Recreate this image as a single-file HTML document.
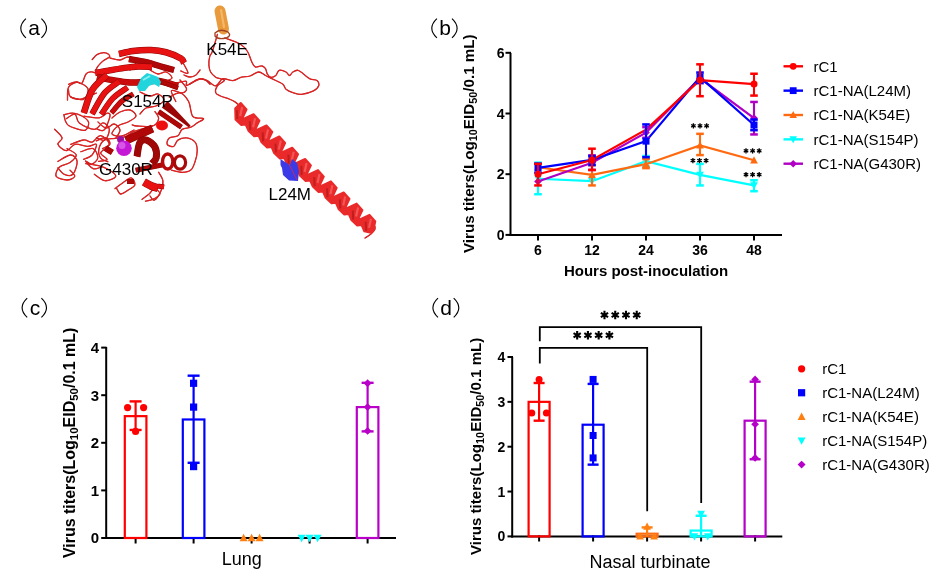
<!DOCTYPE html><html><head><meta charset="utf-8"><style>html,body{margin:0;padding:0;background:#fff;}body{width:947px;height:583px;overflow:hidden;}svg{display:block;will-change:transform;font-family:"Liberation Sans",sans-serif;}</style></head><body><svg width="947" height="583" viewBox="0 0 947 583" font-family="Liberation Sans, sans-serif">
<rect width="947" height="583" fill="#fff"/>
<path d="M25.90,18.60 Q15.70,28.25 25.90,37.90" fill="none" stroke="#000" stroke-width="1.15"/>
<path d="M41.40,18.60 Q51.60,28.25 41.40,37.90" fill="none" stroke="#000" stroke-width="1.15"/>
<text x="34.10" y="35.00" font-size="21" font-weight="normal" text-anchor="middle" fill="#000" >a</text>
<path d="M436.90,18.60 Q426.70,28.25 436.90,37.90" fill="none" stroke="#000" stroke-width="1.15"/>
<path d="M452.00,18.60 Q462.20,28.25 452.00,37.90" fill="none" stroke="#000" stroke-width="1.15"/>
<text x="445.20" y="35.00" font-size="21" font-weight="normal" text-anchor="middle" fill="#000" >b</text>
<path d="M27.20,298.10 Q17.00,307.75 27.20,317.40" fill="none" stroke="#000" stroke-width="1.15"/>
<path d="M41.40,298.10 Q51.60,307.75 41.40,317.40" fill="none" stroke="#000" stroke-width="1.15"/>
<text x="35.00" y="314.50" font-size="21" font-weight="normal" text-anchor="middle" fill="#000" >c</text>
<path d="M438.00,298.10 Q427.80,307.75 438.00,317.40" fill="none" stroke="#000" stroke-width="1.15"/>
<path d="M453.70,298.10 Q463.90,307.75 453.70,317.40" fill="none" stroke="#000" stroke-width="1.15"/>
<text x="446.00" y="314.50" font-size="21" font-weight="normal" text-anchor="middle" fill="#000" >d</text>
<line x1="510.50" y1="52.90" x2="510.50" y2="236.00" stroke="#000" stroke-width="2" />
<line x1="509.50" y1="234.90" x2="782.00" y2="234.90" stroke="#000" stroke-width="2" />
<line x1="505.50" y1="234.90" x2="511.00" y2="234.90" stroke="#000" stroke-width="2" />
<text x="504.50" y="239.90" font-size="14" font-weight="bold" text-anchor="end" fill="#000" >0</text>
<line x1="505.50" y1="174.20" x2="511.00" y2="174.20" stroke="#000" stroke-width="2" />
<text x="504.50" y="179.20" font-size="14" font-weight="bold" text-anchor="end" fill="#000" >2</text>
<line x1="505.50" y1="113.50" x2="511.00" y2="113.50" stroke="#000" stroke-width="2" />
<text x="504.50" y="118.50" font-size="14" font-weight="bold" text-anchor="end" fill="#000" >4</text>
<line x1="505.50" y1="52.80" x2="511.00" y2="52.80" stroke="#000" stroke-width="2" />
<text x="504.50" y="57.80" font-size="14" font-weight="bold" text-anchor="end" fill="#000" >6</text>
<line x1="538.00" y1="234.00" x2="538.00" y2="240.50" stroke="#000" stroke-width="2" />
<text x="538.00" y="254.90" font-size="14" font-weight="bold" text-anchor="middle" fill="#000" >6</text>
<line x1="592.00" y1="234.00" x2="592.00" y2="240.50" stroke="#000" stroke-width="2" />
<text x="592.00" y="254.90" font-size="14" font-weight="bold" text-anchor="middle" fill="#000" >12</text>
<line x1="646.00" y1="234.00" x2="646.00" y2="240.50" stroke="#000" stroke-width="2" />
<text x="646.00" y="254.90" font-size="14" font-weight="bold" text-anchor="middle" fill="#000" >24</text>
<line x1="700.00" y1="234.00" x2="700.00" y2="240.50" stroke="#000" stroke-width="2" />
<text x="700.00" y="254.90" font-size="14" font-weight="bold" text-anchor="middle" fill="#000" >36</text>
<line x1="754.00" y1="234.00" x2="754.00" y2="240.50" stroke="#000" stroke-width="2" />
<text x="754.00" y="254.90" font-size="14" font-weight="bold" text-anchor="middle" fill="#000" >48</text>
<text x="646.00" y="275.80" font-size="15" font-weight="bold" text-anchor="middle" fill="#000" >Hours post-inoculation</text>
<text transform="translate(473.60,253.00) rotate(-90)" x="0" y="0" font-size="15" font-weight="bold" textLength="218.6" lengthAdjust="spacingAndGlyphs">Virus titers(Log<tspan font-size="10.8" dy="3">10</tspan><tspan dy="-3">EID</tspan><tspan font-size="10.8" dy="3">50</tspan><tspan dy="-3">/0.1 mL)</tspan></text>
<polyline points="538,178.75 592,181.18 646,161.15 700,174.81 754,185.43" fill="none" stroke="#00ffff" stroke-width="2.2"/>
<polyline points="538,167.22 592,174.81 646,164.18 700,145.37 754,160.24" fill="none" stroke="#ff6a10" stroke-width="2.2"/>
<polyline points="538,181.48 592,162.67 646,132.62 700,78.29 754,118.05" fill="none" stroke="#b000c4" stroke-width="2.2"/>
<polyline points="538,167.83 592,159.94 646,141.12 700,77.08 754,125.03" fill="none" stroke="#0000ff" stroke-width="2.2"/>
<polyline points="538,174.20 592,159.94 646,129.59 700,80.12 754,84.06" fill="none" stroke="#ff0000" stroke-width="2.2"/>
<line x1="538.00" y1="194.23" x2="538.00" y2="162.67" stroke="#00ffff" stroke-width="2.1" />
<line x1="534.20" y1="194.23" x2="541.80" y2="194.23" stroke="#00ffff" stroke-width="2.5" />
<line x1="534.20" y1="162.67" x2="541.80" y2="162.67" stroke="#00ffff" stroke-width="2.5" />
<line x1="646.00" y1="166.61" x2="646.00" y2="155.99" stroke="#00ffff" stroke-width="2.1" />
<line x1="642.20" y1="166.61" x2="649.80" y2="166.61" stroke="#00ffff" stroke-width="2.5" />
<line x1="642.20" y1="155.99" x2="649.80" y2="155.99" stroke="#00ffff" stroke-width="2.5" />
<line x1="700.00" y1="185.43" x2="700.00" y2="163.88" stroke="#00ffff" stroke-width="2.1" />
<line x1="696.20" y1="185.43" x2="703.80" y2="185.43" stroke="#00ffff" stroke-width="2.5" />
<line x1="696.20" y1="163.88" x2="703.80" y2="163.88" stroke="#00ffff" stroke-width="2.5" />
<line x1="754.00" y1="191.20" x2="754.00" y2="180.27" stroke="#00ffff" stroke-width="2.1" />
<line x1="750.20" y1="191.20" x2="757.80" y2="191.20" stroke="#00ffff" stroke-width="2.5" />
<line x1="750.20" y1="180.27" x2="757.80" y2="180.27" stroke="#00ffff" stroke-width="2.5" />
<polygon points="538.00,182.78 541.85,175.60 534.15,175.60" fill="#00ffff"/>
<polygon points="592.00,185.21 595.85,178.03 588.15,178.03" fill="#00ffff"/>
<polygon points="646.00,165.17 649.85,158.00 642.15,158.00" fill="#00ffff"/>
<polygon points="700.00,178.83 703.85,171.66 696.15,171.66" fill="#00ffff"/>
<polygon points="754.00,189.45 757.85,182.28 750.15,182.28" fill="#00ffff"/>
<line x1="592.00" y1="185.43" x2="592.00" y2="165.10" stroke="#ff6a10" stroke-width="2.1" />
<line x1="588.20" y1="185.43" x2="595.80" y2="185.43" stroke="#ff6a10" stroke-width="2.5" />
<line x1="588.20" y1="165.10" x2="595.80" y2="165.10" stroke="#ff6a10" stroke-width="2.5" />
<line x1="646.00" y1="168.13" x2="646.00" y2="159.03" stroke="#ff6a10" stroke-width="2.1" />
<line x1="642.20" y1="168.13" x2="649.80" y2="168.13" stroke="#ff6a10" stroke-width="2.5" />
<line x1="642.20" y1="159.03" x2="649.80" y2="159.03" stroke="#ff6a10" stroke-width="2.5" />
<line x1="700.00" y1="155.08" x2="700.00" y2="133.83" stroke="#ff6a10" stroke-width="2.1" />
<line x1="696.20" y1="155.08" x2="703.80" y2="155.08" stroke="#ff6a10" stroke-width="2.5" />
<line x1="696.20" y1="133.83" x2="703.80" y2="133.83" stroke="#ff6a10" stroke-width="2.5" />
<polygon points="538.00,163.19 541.85,170.37 534.15,170.37" fill="#ff6a10"/>
<polygon points="592.00,170.78 595.85,177.96 588.15,177.96" fill="#ff6a10"/>
<polygon points="646.00,160.16 649.85,167.33 642.15,167.33" fill="#ff6a10"/>
<polygon points="700.00,141.34 703.85,148.52 696.15,148.52" fill="#ff6a10"/>
<polygon points="754.00,156.21 757.85,163.39 750.15,163.39" fill="#ff6a10"/>
<line x1="592.00" y1="169.95" x2="592.00" y2="155.38" stroke="#b000c4" stroke-width="2.1" />
<line x1="588.20" y1="169.95" x2="595.80" y2="169.95" stroke="#b000c4" stroke-width="2.5" />
<line x1="588.20" y1="155.38" x2="595.80" y2="155.38" stroke="#b000c4" stroke-width="2.5" />
<line x1="646.00" y1="137.78" x2="646.00" y2="127.16" stroke="#b000c4" stroke-width="2.1" />
<line x1="642.20" y1="137.78" x2="649.80" y2="137.78" stroke="#b000c4" stroke-width="2.5" />
<line x1="642.20" y1="127.16" x2="649.80" y2="127.16" stroke="#b000c4" stroke-width="2.5" />
<line x1="754.00" y1="134.44" x2="754.00" y2="101.97" stroke="#b000c4" stroke-width="2.1" />
<line x1="750.20" y1="134.44" x2="757.80" y2="134.44" stroke="#b000c4" stroke-width="2.5" />
<line x1="750.20" y1="101.97" x2="757.80" y2="101.97" stroke="#b000c4" stroke-width="2.5" />
<polygon points="538.00,177.63 541.85,181.48 538.00,185.33 534.15,181.48" fill="#b000c4"/>
<polygon points="592.00,158.82 595.85,162.67 592.00,166.52 588.15,162.67" fill="#b000c4"/>
<polygon points="646.00,128.77 649.85,132.62 646.00,136.47 642.15,132.62" fill="#b000c4"/>
<polygon points="700.00,74.44 703.85,78.29 700.00,82.14 696.15,78.29" fill="#b000c4"/>
<polygon points="754.00,114.20 757.85,118.05 754.00,121.90 750.15,118.05" fill="#b000c4"/>
<line x1="538.00" y1="172.68" x2="538.00" y2="163.58" stroke="#0000ff" stroke-width="2.1" />
<line x1="534.20" y1="172.68" x2="541.80" y2="172.68" stroke="#0000ff" stroke-width="2.5" />
<line x1="534.20" y1="163.58" x2="541.80" y2="163.58" stroke="#0000ff" stroke-width="2.5" />
<line x1="592.00" y1="165.10" x2="592.00" y2="155.99" stroke="#0000ff" stroke-width="2.1" />
<line x1="588.20" y1="165.10" x2="595.80" y2="165.10" stroke="#0000ff" stroke-width="2.5" />
<line x1="588.20" y1="155.99" x2="595.80" y2="155.99" stroke="#0000ff" stroke-width="2.5" />
<line x1="646.00" y1="157.20" x2="646.00" y2="124.43" stroke="#0000ff" stroke-width="2.1" />
<line x1="642.20" y1="157.20" x2="649.80" y2="157.20" stroke="#0000ff" stroke-width="2.5" />
<line x1="642.20" y1="124.43" x2="649.80" y2="124.43" stroke="#0000ff" stroke-width="2.5" />
<line x1="700.00" y1="83.15" x2="700.00" y2="72.53" stroke="#0000ff" stroke-width="2.1" />
<line x1="696.20" y1="83.15" x2="703.80" y2="83.15" stroke="#0000ff" stroke-width="2.5" />
<line x1="696.20" y1="72.53" x2="703.80" y2="72.53" stroke="#0000ff" stroke-width="2.5" />
<line x1="754.00" y1="130.19" x2="754.00" y2="119.57" stroke="#0000ff" stroke-width="2.1" />
<line x1="750.20" y1="130.19" x2="757.80" y2="130.19" stroke="#0000ff" stroke-width="2.5" />
<line x1="750.20" y1="119.57" x2="757.80" y2="119.57" stroke="#0000ff" stroke-width="2.5" />
<rect x="534.50" y="164.33" width="7.00" height="7.00" fill="#0000ff"/>
<rect x="588.50" y="156.44" width="7.00" height="7.00" fill="#0000ff"/>
<rect x="642.50" y="137.62" width="7.00" height="7.00" fill="#0000ff"/>
<rect x="696.50" y="73.58" width="7.00" height="7.00" fill="#0000ff"/>
<rect x="750.50" y="121.53" width="7.00" height="7.00" fill="#0000ff"/>
<line x1="538.00" y1="185.43" x2="538.00" y2="163.88" stroke="#ff0000" stroke-width="2.1" />
<line x1="534.20" y1="185.43" x2="541.80" y2="185.43" stroke="#ff0000" stroke-width="2.5" />
<line x1="534.20" y1="163.88" x2="541.80" y2="163.88" stroke="#ff0000" stroke-width="2.5" />
<line x1="592.00" y1="169.95" x2="592.00" y2="148.71" stroke="#ff0000" stroke-width="2.1" />
<line x1="588.20" y1="169.95" x2="595.80" y2="169.95" stroke="#ff0000" stroke-width="2.5" />
<line x1="588.20" y1="148.71" x2="595.80" y2="148.71" stroke="#ff0000" stroke-width="2.5" />
<line x1="700.00" y1="96.20" x2="700.00" y2="64.33" stroke="#ff0000" stroke-width="2.1" />
<line x1="696.20" y1="96.20" x2="703.80" y2="96.20" stroke="#ff0000" stroke-width="2.5" />
<line x1="696.20" y1="64.33" x2="703.80" y2="64.33" stroke="#ff0000" stroke-width="2.5" />
<line x1="754.00" y1="95.59" x2="754.00" y2="73.74" stroke="#ff0000" stroke-width="2.1" />
<line x1="750.20" y1="95.59" x2="757.80" y2="95.59" stroke="#ff0000" stroke-width="2.5" />
<line x1="750.20" y1="73.74" x2="757.80" y2="73.74" stroke="#ff0000" stroke-width="2.5" />
<circle cx="538.00" cy="174.20" r="3.5" fill="#ff0000"/>
<circle cx="592.00" cy="159.94" r="3.5" fill="#ff0000"/>
<circle cx="700.00" cy="80.12" r="3.5" fill="#ff0000"/>
<circle cx="754.00" cy="84.06" r="3.5" fill="#ff0000"/>
<path d="M693.40,123.20L693.40,128.40M691.15,124.50L695.65,127.10M695.65,124.50L691.15,127.10" stroke="#000" stroke-width="1.3" fill="none"/>
<path d="M700.00,123.20L700.00,128.40M697.75,124.50L702.25,127.10M702.25,124.50L697.75,127.10" stroke="#000" stroke-width="1.3" fill="none"/>
<path d="M706.60,123.20L706.60,128.40M704.35,124.50L708.85,127.10M708.85,124.50L704.35,127.10" stroke="#000" stroke-width="1.3" fill="none"/>
<path d="M692.90,158.00L692.90,163.20M690.65,159.30L695.15,161.90M695.15,159.30L690.65,161.90" stroke="#000" stroke-width="1.3" fill="none"/>
<path d="M699.50,158.00L699.50,163.20M697.25,159.30L701.75,161.90M701.75,159.30L697.25,161.90" stroke="#000" stroke-width="1.3" fill="none"/>
<path d="M706.10,158.00L706.10,163.20M703.85,159.30L708.35,161.90M708.35,159.30L703.85,161.90" stroke="#000" stroke-width="1.3" fill="none"/>
<path d="M746.00,148.20L746.00,153.40M743.75,149.50L748.25,152.10M748.25,149.50L743.75,152.10" stroke="#000" stroke-width="1.3" fill="none"/>
<path d="M752.60,148.20L752.60,153.40M750.35,149.50L754.85,152.10M754.85,149.50L750.35,152.10" stroke="#000" stroke-width="1.3" fill="none"/>
<path d="M759.20,148.20L759.20,153.40M756.95,149.50L761.45,152.10M761.45,149.50L756.95,152.10" stroke="#000" stroke-width="1.3" fill="none"/>
<path d="M746.00,172.10L746.00,177.30M743.75,173.40L748.25,176.00M748.25,173.40L743.75,176.00" stroke="#000" stroke-width="1.3" fill="none"/>
<path d="M752.60,172.10L752.60,177.30M750.35,173.40L754.85,176.00M754.85,173.40L750.35,176.00" stroke="#000" stroke-width="1.3" fill="none"/>
<path d="M759.20,172.10L759.20,177.30M756.95,173.40L761.45,176.00M761.45,173.40L756.95,176.00" stroke="#000" stroke-width="1.3" fill="none"/>
<line x1="783.50" y1="66.30" x2="803.00" y2="66.30" stroke="#ff0000" stroke-width="2.4" />
<circle cx="793.20" cy="66.30" r="3.4" fill="#ff0000"/>
<text x="813.50" y="71.60" font-size="15" font-weight="normal" text-anchor="start" fill="#000" >rC1</text>
<line x1="783.50" y1="90.65" x2="803.00" y2="90.65" stroke="#0000ff" stroke-width="2.4" />
<rect x="789.80" y="87.25" width="6.80" height="6.80" fill="#0000ff"/>
<text x="813.50" y="95.95" font-size="15" font-weight="normal" text-anchor="start" fill="#000" >rC1-NA(L24M)</text>
<line x1="783.50" y1="115.00" x2="803.00" y2="115.00" stroke="#ff6a10" stroke-width="2.4" />
<polygon points="793.20,111.09 796.94,118.06 789.46,118.06" fill="#ff6a10"/>
<text x="813.50" y="120.30" font-size="15" font-weight="normal" text-anchor="start" fill="#000" >rC1-NA(K54E)</text>
<line x1="783.50" y1="139.35" x2="803.00" y2="139.35" stroke="#00ffff" stroke-width="2.4" />
<polygon points="793.20,143.26 796.94,136.29 789.46,136.29" fill="#00ffff"/>
<text x="813.50" y="144.65" font-size="15" font-weight="normal" text-anchor="start" fill="#000" >rC1-NA(S154P)</text>
<line x1="783.50" y1="163.70" x2="803.00" y2="163.70" stroke="#b000c4" stroke-width="2.4" />
<polygon points="793.20,159.96 796.94,163.70 793.20,167.44 789.46,163.70" fill="#b000c4"/>
<text x="813.50" y="169.00" font-size="15" font-weight="normal" text-anchor="start" fill="#000" >rC1-NA(G430R)</text>
<line x1="106.20" y1="347.00" x2="106.20" y2="539.00" stroke="#000" stroke-width="2" />
<line x1="105.20" y1="538.00" x2="396.00" y2="538.00" stroke="#000" stroke-width="2" />
<line x1="101.20" y1="538.00" x2="106.50" y2="538.00" stroke="#000" stroke-width="2" />
<text x="99.20" y="543.30" font-size="15" font-weight="bold" text-anchor="end" fill="#000" >0</text>
<line x1="101.20" y1="490.40" x2="106.50" y2="490.40" stroke="#000" stroke-width="2" />
<text x="99.20" y="495.70" font-size="15" font-weight="bold" text-anchor="end" fill="#000" >1</text>
<line x1="101.20" y1="442.80" x2="106.50" y2="442.80" stroke="#000" stroke-width="2" />
<text x="99.20" y="448.10" font-size="15" font-weight="bold" text-anchor="end" fill="#000" >2</text>
<line x1="101.20" y1="395.20" x2="106.50" y2="395.20" stroke="#000" stroke-width="2" />
<text x="99.20" y="400.50" font-size="15" font-weight="bold" text-anchor="end" fill="#000" >3</text>
<line x1="101.20" y1="347.60" x2="106.50" y2="347.60" stroke="#000" stroke-width="2" />
<text x="99.20" y="352.90" font-size="15" font-weight="bold" text-anchor="end" fill="#000" >4</text>
<line x1="135.60" y1="537.00" x2="135.60" y2="543.50" stroke="#000" stroke-width="2" />
<line x1="193.60" y1="537.00" x2="193.60" y2="543.50" stroke="#000" stroke-width="2" />
<line x1="251.60" y1="537.00" x2="251.60" y2="543.50" stroke="#000" stroke-width="2" />
<line x1="309.60" y1="537.00" x2="309.60" y2="543.50" stroke="#000" stroke-width="2" />
<line x1="367.60" y1="537.00" x2="367.60" y2="543.50" stroke="#000" stroke-width="2" />
<text x="241.70" y="565.20" font-size="18" font-weight="normal" text-anchor="middle" fill="#000" >Lung</text>
<text transform="translate(75.00,558.10) rotate(-90)" x="0" y="0" font-size="16" font-weight="bold" textLength="230.5" lengthAdjust="spacingAndGlyphs">Virus titers(Log<tspan font-size="11.5" dy="3">10</tspan><tspan dy="-3">EID</tspan><tspan font-size="11.5" dy="3">50</tspan><tspan dy="-3">/0.1 mL)</tspan></text>
<rect x="124.80" y="416.14" width="21.6" height="121.86" fill="none" stroke="#ff0000" stroke-width="2.2"/>
<line x1="135.60" y1="429.95" x2="135.60" y2="401.39" stroke="#ff0000" stroke-width="2.2" />
<line x1="129.60" y1="429.95" x2="141.60" y2="429.95" stroke="#ff0000" stroke-width="2.4" />
<line x1="129.60" y1="401.39" x2="141.60" y2="401.39" stroke="#ff0000" stroke-width="2.4" />
<circle cx="127.60" cy="407.58" r="3.6" fill="#ff0000"/>
<circle cx="143.60" cy="407.58" r="3.6" fill="#ff0000"/>
<circle cx="135.60" cy="431.38" r="3.6" fill="#ff0000"/>
<rect x="182.80" y="419.48" width="21.6" height="118.52" fill="none" stroke="#0000ff" stroke-width="2.2"/>
<line x1="193.60" y1="462.79" x2="193.60" y2="375.68" stroke="#0000ff" stroke-width="2.2" />
<line x1="187.60" y1="462.79" x2="199.60" y2="462.79" stroke="#0000ff" stroke-width="2.4" />
<line x1="187.60" y1="375.68" x2="199.60" y2="375.68" stroke="#0000ff" stroke-width="2.4" />
<rect x="190.00" y="379.70" width="7.20" height="7.20" fill="#0000ff"/>
<rect x="190.00" y="403.50" width="7.20" height="7.20" fill="#0000ff"/>
<rect x="190.00" y="463.00" width="7.20" height="7.20" fill="#0000ff"/>
<polygon points="243.60,533.86 247.56,541.24 239.64,541.24" fill="#ff8010"/>
<polygon points="251.60,533.86 255.56,541.24 247.64,541.24" fill="#ff8010"/>
<polygon points="259.60,533.86 263.56,541.24 255.64,541.24" fill="#ff8010"/>
<polygon points="301.60,542.14 305.56,534.76 297.64,534.76" fill="#00ffff"/>
<polygon points="309.60,542.14 313.56,534.76 305.64,534.76" fill="#00ffff"/>
<polygon points="317.60,542.14 321.56,534.76 313.64,534.76" fill="#00ffff"/>
<rect x="356.80" y="407.10" width="21.6" height="130.90" fill="none" stroke="#b800c8" stroke-width="2.2"/>
<line x1="367.60" y1="431.38" x2="367.60" y2="382.82" stroke="#b800c8" stroke-width="2.2" />
<line x1="361.60" y1="431.38" x2="373.60" y2="431.38" stroke="#b800c8" stroke-width="2.4" />
<line x1="361.60" y1="382.82" x2="373.60" y2="382.82" stroke="#b800c8" stroke-width="2.4" />
<polygon points="367.60,379.34 371.56,383.30 367.60,387.26 363.64,383.30" fill="#b800c8"/>
<polygon points="367.60,403.14 371.56,407.10 367.60,411.06 363.64,407.10" fill="#b800c8"/>
<polygon points="367.60,426.94 371.56,430.90 367.60,434.86 363.64,430.90" fill="#b800c8"/>
<line x1="512.20" y1="357.00" x2="512.20" y2="537.40" stroke="#000" stroke-width="2" />
<line x1="511.20" y1="536.40" x2="782.30" y2="536.40" stroke="#000" stroke-width="2" />
<line x1="507.50" y1="536.40" x2="513.00" y2="536.40" stroke="#000" stroke-width="2" />
<text x="505.20" y="541.40" font-size="14" font-weight="bold" text-anchor="end" fill="#000" >0</text>
<line x1="507.50" y1="491.55" x2="513.00" y2="491.55" stroke="#000" stroke-width="2" />
<text x="505.20" y="496.55" font-size="14" font-weight="bold" text-anchor="end" fill="#000" >1</text>
<line x1="507.50" y1="446.70" x2="513.00" y2="446.70" stroke="#000" stroke-width="2" />
<text x="505.20" y="451.70" font-size="14" font-weight="bold" text-anchor="end" fill="#000" >2</text>
<line x1="507.50" y1="401.85" x2="513.00" y2="401.85" stroke="#000" stroke-width="2" />
<text x="505.20" y="406.85" font-size="14" font-weight="bold" text-anchor="end" fill="#000" >3</text>
<line x1="507.50" y1="357.00" x2="513.00" y2="357.00" stroke="#000" stroke-width="2" />
<text x="505.20" y="362.00" font-size="14" font-weight="bold" text-anchor="end" fill="#000" >4</text>
<line x1="539.10" y1="535.40" x2="539.10" y2="541.50" stroke="#000" stroke-width="2" />
<line x1="593.10" y1="535.40" x2="593.10" y2="541.50" stroke="#000" stroke-width="2" />
<line x1="647.10" y1="535.40" x2="647.10" y2="541.50" stroke="#000" stroke-width="2" />
<line x1="701.10" y1="535.40" x2="701.10" y2="541.50" stroke="#000" stroke-width="2" />
<line x1="755.10" y1="535.40" x2="755.10" y2="541.50" stroke="#000" stroke-width="2" />
<text x="650.00" y="567.60" font-size="18" font-weight="normal" text-anchor="middle" fill="#000" >Nasal turbinate</text>
<text transform="translate(481.00,555.00) rotate(-90)" x="0" y="0" font-size="15" font-weight="bold" textLength="217.3" lengthAdjust="spacingAndGlyphs">Virus titers(Log<tspan font-size="10.8" dy="3">10</tspan><tspan dy="-3">EID</tspan><tspan font-size="10.8" dy="3">50</tspan><tspan dy="-3">/0.1 mL)</tspan></text>
<rect x="528.60" y="401.85" width="21" height="134.55" fill="none" stroke="#ff0000" stroke-width="2.2"/>
<line x1="539.10" y1="420.69" x2="539.10" y2="383.01" stroke="#ff0000" stroke-width="2.2" />
<line x1="533.60" y1="383.01" x2="544.60" y2="383.01" stroke="#ff0000" stroke-width="2.4" />
<line x1="533.60" y1="420.69" x2="544.60" y2="420.69" stroke="#ff0000" stroke-width="2.4" />
<circle cx="539.10" cy="379.42" r="3.5" fill="#ff0000"/>
<circle cx="531.80" cy="413.06" r="3.5" fill="#ff0000"/>
<circle cx="546.40" cy="413.06" r="3.5" fill="#ff0000"/>
<rect x="582.60" y="424.72" width="21" height="111.68" fill="none" stroke="#0000ff" stroke-width="2.2"/>
<line x1="593.10" y1="464.64" x2="593.10" y2="383.91" stroke="#0000ff" stroke-width="2.2" />
<line x1="587.60" y1="383.91" x2="598.60" y2="383.91" stroke="#0000ff" stroke-width="2.4" />
<line x1="587.60" y1="464.64" x2="598.60" y2="464.64" stroke="#0000ff" stroke-width="2.4" />
<rect x="589.60" y="375.92" width="7.00" height="7.00" fill="#0000ff"/>
<rect x="589.60" y="431.99" width="7.00" height="7.00" fill="#0000ff"/>
<rect x="589.60" y="454.41" width="7.00" height="7.00" fill="#0000ff"/>
<rect x="636.60" y="533.71" width="21" height="2.69" fill="none" stroke="#ff6a10" stroke-width="2.2"/>
<line x1="647.10" y1="536.40" x2="647.10" y2="527.43" stroke="#ff8010" stroke-width="2.2" />
<line x1="641.60" y1="527.43" x2="652.60" y2="527.43" stroke="#ff8010" stroke-width="2.4" />
<polygon points="647.10,522.51 650.95,529.68 643.25,529.68" fill="#ff8010"/>
<polygon points="640.10,532.38 643.95,539.55 636.25,539.55" fill="#ff8010"/>
<polygon points="654.10,532.38 657.95,539.55 650.25,539.55" fill="#ff8010"/>
<rect x="690.60" y="530.57" width="21" height="5.83" fill="none" stroke="#00ffff" stroke-width="2.2"/>
<line x1="701.10" y1="536.40" x2="701.10" y2="515.77" stroke="#00ffff" stroke-width="2.2" />
<line x1="695.60" y1="515.77" x2="706.60" y2="515.77" stroke="#00ffff" stroke-width="2.4" />
<polygon points="701.10,518.00 704.95,510.83 697.25,510.83" fill="#00ffff"/>
<polygon points="694.40,540.42 698.25,533.25 690.55,533.25" fill="#00ffff"/>
<polygon points="707.80,540.42 711.65,533.25 703.95,533.25" fill="#00ffff"/>
<rect x="744.60" y="420.69" width="21" height="115.71" fill="none" stroke="#b400c8" stroke-width="2.2"/>
<line x1="755.10" y1="459.26" x2="755.10" y2="381.67" stroke="#b400c8" stroke-width="2.2" />
<line x1="749.60" y1="381.67" x2="760.60" y2="381.67" stroke="#b400c8" stroke-width="2.4" />
<line x1="749.60" y1="459.26" x2="760.60" y2="459.26" stroke="#b400c8" stroke-width="2.4" />
<polygon points="755.10,375.57 758.95,379.42 755.10,383.27 751.25,379.42" fill="#b400c8"/>
<polygon points="755.10,420.42 758.95,424.27 755.10,428.12 751.25,424.27" fill="#b400c8"/>
<polygon points="755.10,454.06 758.95,457.91 755.10,461.76 751.25,457.91" fill="#b400c8"/>
<polyline points="539.8,341.3 539.8,327.2 701.2,327.2 701.2,503" fill="none" stroke="#000" stroke-width="1.8"/>
<polyline points="539.8,363.6 539.8,347.8 647.2,347.8 647.2,511.3" fill="none" stroke="#000" stroke-width="1.8"/>
<path d="M604.48,310.80L604.48,319.20M600.84,312.90L608.11,317.10M608.11,312.90L600.84,317.10" stroke="#000" stroke-width="2.1" fill="none"/>
<path d="M615.23,310.80L615.23,319.20M611.59,312.90L618.86,317.10M618.86,312.90L611.59,317.10" stroke="#000" stroke-width="2.1" fill="none"/>
<path d="M625.98,310.80L625.98,319.20M622.34,312.90L629.61,317.10M629.61,312.90L622.34,317.10" stroke="#000" stroke-width="2.1" fill="none"/>
<path d="M636.73,310.80L636.73,319.20M633.09,312.90L640.36,317.10M640.36,312.90L633.09,317.10" stroke="#000" stroke-width="2.1" fill="none"/>
<path d="M577.17,331.10L577.17,339.50M573.54,333.20L580.81,337.40M580.81,333.20L573.54,337.40" stroke="#000" stroke-width="2.1" fill="none"/>
<path d="M587.92,331.10L587.92,339.50M584.29,333.20L591.56,337.40M591.56,333.20L584.29,337.40" stroke="#000" stroke-width="2.1" fill="none"/>
<path d="M598.67,331.10L598.67,339.50M595.04,333.20L602.31,337.40M602.31,333.20L595.04,337.40" stroke="#000" stroke-width="2.1" fill="none"/>
<path d="M609.42,331.10L609.42,339.50M605.79,333.20L613.06,337.40M613.06,333.20L605.79,337.40" stroke="#000" stroke-width="2.1" fill="none"/>
<circle cx="801.60" cy="368.80" r="3.6" fill="#ff0000"/>
<text x="822.20" y="374.10" font-size="15" font-weight="normal" text-anchor="start" fill="#000" >rC1</text>
<rect x="798.00" y="389.15" width="7.20" height="7.20" fill="#0000ff"/>
<text x="822.20" y="398.05" font-size="15" font-weight="normal" text-anchor="start" fill="#000" >rC1-NA(L24M)</text>
<polygon points="801.60,412.56 805.56,419.94 797.64,419.94" fill="#ff8010"/>
<text x="822.20" y="422.00" font-size="15" font-weight="normal" text-anchor="start" fill="#000" >rC1-NA(K54E)</text>
<polygon points="801.60,444.79 805.56,437.41 797.64,437.41" fill="#00ffff"/>
<text x="822.20" y="445.95" font-size="15" font-weight="normal" text-anchor="start" fill="#000" >rC1-NA(S154P)</text>
<polygon points="801.60,460.64 805.56,464.60 801.60,468.56 797.64,464.60" fill="#b400c8"/>
<text x="822.20" y="469.90" font-size="15" font-weight="normal" text-anchor="start" fill="#000" >rC1-NA(G430R)</text>
<path d="M169.3,97.2C171.1,96.5 176.8,92.2 180.0,92.9C183.2,93.6 186.4,97.6 188.6,101.5C190.8,105.4 190.4,113.7 192.9,116.5C195.4,119.3 202.9,117.5 203.6,118.6C204.3,119.7 199.3,121.5 197.2,122.9C195.1,124.3 193.3,126.1 190.8,127.2C188.3,128.3 184.3,128.0 182.2,129.4C180.0,130.8 180.1,134.4 177.9,135.8C175.8,137.2 171.1,136.5 169.3,137.9C167.5,139.3 166.5,143.0 167.2,144.4C167.9,145.8 171.8,147.2 173.6,146.5C175.4,145.8 175.8,141.5 177.9,140.1C180.1,138.7 183.6,137.6 186.5,137.9C189.4,138.2 193.3,140.0 195.1,142.2C196.9,144.3 197.2,147.6 197.2,150.8C197.2,154.0 196.2,158.3 195.1,161.5C194.0,164.7 193.0,168.3 190.8,170.1C188.7,171.9 185.4,172.3 182.2,172.3C179.0,172.3 173.3,170.5 171.5,170.1" fill="none" stroke="#b01414" stroke-width="1.3" stroke-linecap="round" stroke-linejoin="round" />
<path d="M169.3,97.2C171.1,96.5 176.8,92.2 180.0,92.9C183.2,93.6 186.4,97.6 188.6,101.5C190.8,105.4 190.4,113.7 192.9,116.5C195.4,119.3 202.9,117.5 203.6,118.6C204.3,119.7 199.3,121.5 197.2,122.9C195.1,124.3 193.3,126.1 190.8,127.2C188.3,128.3 184.3,128.0 182.2,129.4C180.0,130.8 180.1,134.4 177.9,135.8C175.8,137.2 171.1,136.5 169.3,137.9C167.5,139.3 166.5,143.0 167.2,144.4C167.9,145.8 171.8,147.2 173.6,146.5C175.4,145.8 175.8,141.5 177.9,140.1C180.1,138.7 183.6,137.6 186.5,137.9C189.4,138.2 193.3,140.0 195.1,142.2C196.9,144.3 197.2,147.6 197.2,150.8C197.2,154.0 196.2,158.3 195.1,161.5C194.0,164.7 193.0,168.3 190.8,170.1C188.7,171.9 185.4,172.3 182.2,172.3C179.0,172.3 173.3,170.5 171.5,170.1" fill="none" stroke="#ff2a2a" stroke-width="0.75" stroke-linecap="round" stroke-linejoin="round" />
<path d="M180.0,80.0C181.1,81.4 186.1,86.4 186.5,88.6C186.9,90.8 184.7,92.6 182.2,92.9C179.7,93.2 172.6,89.3 171.5,90.7C170.4,92.1 175.1,99.7 175.8,101.5" fill="none" stroke="#b01414" stroke-width="1.3" stroke-linecap="round" stroke-linejoin="round" />
<path d="M180.0,80.0C181.1,81.4 186.1,86.4 186.5,88.6C186.9,90.8 184.7,92.6 182.2,92.9C179.7,93.2 172.6,89.3 171.5,90.7C170.4,92.1 175.1,99.7 175.8,101.5" fill="none" stroke="#ff2a2a" stroke-width="0.75" stroke-linecap="round" stroke-linejoin="round" />
<path d="M158.6,172.3C159.3,173.7 162.6,177.7 162.9,180.9C163.2,184.1 162.1,188.4 160.7,191.6C159.3,194.8 156.1,199.5 154.3,200.2C152.5,200.9 150.7,196.6 150.0,195.9" fill="none" stroke="#b01414" stroke-width="1.3" stroke-linecap="round" stroke-linejoin="round" />
<path d="M158.6,172.3C159.3,173.7 162.6,177.7 162.9,180.9C163.2,184.1 162.1,188.4 160.7,191.6C159.3,194.8 156.1,199.5 154.3,200.2C152.5,200.9 150.7,196.6 150.0,195.9" fill="none" stroke="#ff2a2a" stroke-width="0.75" stroke-linecap="round" stroke-linejoin="round" />
<path d="M155.0,111.6C155.6,112.8 159.0,116.4 158.6,118.8C158.2,121.2 156.2,124.8 152.6,126.0C149.0,127.2 140.4,126.2 137.0,126.0C133.6,125.8 133.0,125.0 132.2,124.8" fill="none" stroke="#b01414" stroke-width="1.3" stroke-linecap="round" stroke-linejoin="round" />
<path d="M155.0,111.6C155.6,112.8 159.0,116.4 158.6,118.8C158.2,121.2 156.2,124.8 152.6,126.0C149.0,127.2 140.4,126.2 137.0,126.0C133.6,125.8 133.0,125.0 132.2,124.8" fill="none" stroke="#ff2a2a" stroke-width="0.75" stroke-linecap="round" stroke-linejoin="round" />
<path d="M92.2,59.6C93.1,58.7 95.2,55.5 97.4,54.4C99.6,53.3 103.5,52.5 105.6,52.9C107.6,53.2 110.0,55.2 109.7,56.5C109.4,57.8 105.5,59.1 103.6,60.6C101.7,62.1 99.8,64.0 98.4,65.7C97.0,67.4 95.8,70.0 95.3,70.9" fill="none" stroke="#b01414" stroke-width="1.3" stroke-linecap="round" stroke-linejoin="round" />
<path d="M92.2,59.6C93.1,58.7 95.2,55.5 97.4,54.4C99.6,53.3 103.5,52.5 105.6,52.9C107.6,53.2 110.0,55.2 109.7,56.5C109.4,57.8 105.5,59.1 103.6,60.6C101.7,62.1 99.8,64.0 98.4,65.7C97.0,67.4 95.8,70.0 95.3,70.9" fill="none" stroke="#ff2a2a" stroke-width="0.75" stroke-linecap="round" stroke-linejoin="round" />
<path d="M67.5,100.0C67.7,97.9 67.0,90.4 68.5,87.4C70.0,84.4 74.6,82.9 76.8,82.2C79.0,81.5 80.4,84.7 81.9,83.3C83.4,81.9 84.5,75.9 86.0,74.0C87.5,72.1 89.7,72.1 91.2,71.9C92.8,71.7 94.6,72.8 95.3,73.0" fill="none" stroke="#b01414" stroke-width="1.3" stroke-linecap="round" stroke-linejoin="round" />
<path d="M67.5,100.0C67.7,97.9 67.0,90.4 68.5,87.4C70.0,84.4 74.6,82.9 76.8,82.2C79.0,81.5 80.4,84.7 81.9,83.3C83.4,81.9 84.5,75.9 86.0,74.0C87.5,72.1 89.7,72.1 91.2,71.9C92.8,71.7 94.6,72.8 95.3,73.0" fill="none" stroke="#ff2a2a" stroke-width="0.75" stroke-linecap="round" stroke-linejoin="round" />
<path d="M181.8,60.6C182.8,62.7 188.2,71.3 188.0,73.0C187.8,74.7 182.0,71.3 180.8,71.0" fill="none" stroke="#b01414" stroke-width="1.3" stroke-linecap="round" stroke-linejoin="round" />
<path d="M181.8,60.6C182.8,62.7 188.2,71.3 188.0,73.0C187.8,74.7 182.0,71.3 180.8,71.0" fill="none" stroke="#ff2a2a" stroke-width="0.75" stroke-linecap="round" stroke-linejoin="round" />
<path d="M175.6,83.3C177.3,83.0 184.0,80.9 185.9,81.2C187.8,81.5 184.9,85.7 187.0,85.3C189.1,84.9 195.2,79.9 198.3,79.1C201.4,78.2 203.6,79.3 205.5,80.2C207.4,81.1 209.2,83.6 210.0,84.3" fill="none" stroke="#b01414" stroke-width="1.3" stroke-linecap="round" stroke-linejoin="round" />
<path d="M175.6,83.3C177.3,83.0 184.0,80.9 185.9,81.2C187.8,81.5 184.9,85.7 187.0,85.3C189.1,84.9 195.2,79.9 198.3,79.1C201.4,78.2 203.6,79.3 205.5,80.2C207.4,81.1 209.2,83.6 210.0,84.3" fill="none" stroke="#ff2a2a" stroke-width="0.75" stroke-linecap="round" stroke-linejoin="round" />
<path d="M68.5,90.0C68.8,91.0 68.2,94.7 70.0,96.2C71.8,97.8 76.2,99.3 79.3,99.3C82.4,99.3 85.8,97.2 88.6,96.2C91.4,95.2 95.0,93.6 96.3,93.1" fill="none" stroke="#b01414" stroke-width="1.3" stroke-linecap="round" stroke-linejoin="round" />
<path d="M68.5,90.0C68.8,91.0 68.2,94.7 70.0,96.2C71.8,97.8 76.2,99.3 79.3,99.3C82.4,99.3 85.8,97.2 88.6,96.2C91.4,95.2 95.0,93.6 96.3,93.1" fill="none" stroke="#ff2a2a" stroke-width="0.75" stroke-linecap="round" stroke-linejoin="round" />
<path d="M63.9,114.7C65.4,114.4 70.0,112.8 73.1,113.1C76.2,113.3 79.8,114.7 82.4,116.2C85.0,117.8 88.1,120.1 88.6,122.4C89.1,124.7 87.6,129.1 85.5,130.1C83.4,131.1 79.0,129.4 76.2,128.6C73.4,127.8 70.3,126.8 68.5,125.5C66.7,124.2 66.2,122.7 65.4,120.9C64.6,119.1 64.2,115.7 63.9,114.7" fill="none" stroke="#b01414" stroke-width="1.3" stroke-linecap="round" stroke-linejoin="round" />
<path d="M63.9,114.7C65.4,114.4 70.0,112.8 73.1,113.1C76.2,113.3 79.8,114.7 82.4,116.2C85.0,117.8 88.1,120.1 88.6,122.4C89.1,124.7 87.6,129.1 85.5,130.1C83.4,131.1 79.0,129.4 76.2,128.6C73.4,127.8 70.3,126.8 68.5,125.5C66.7,124.2 66.2,122.7 65.4,120.9C64.6,119.1 64.2,115.7 63.9,114.7" fill="none" stroke="#ff2a2a" stroke-width="0.75" stroke-linecap="round" stroke-linejoin="round" />
<path d="M67.0,148.6C68.5,149.6 75.7,152.5 76.2,154.8C76.7,157.1 72.8,160.4 70.0,162.5C67.2,164.6 61.6,164.9 59.3,167.2C57.0,169.5 54.9,174.3 56.2,176.4C57.5,178.5 63.9,180.0 67.0,180.0C70.1,180.0 74.2,178.0 74.7,176.4C75.2,174.8 70.8,171.2 70.0,170.2" fill="none" stroke="#b01414" stroke-width="1.3" stroke-linecap="round" stroke-linejoin="round" />
<path d="M67.0,148.6C68.5,149.6 75.7,152.5 76.2,154.8C76.7,157.1 72.8,160.4 70.0,162.5C67.2,164.6 61.6,164.9 59.3,167.2C57.0,169.5 54.9,174.3 56.2,176.4C57.5,178.5 63.9,180.0 67.0,180.0C70.1,180.0 74.2,178.0 74.7,176.4C75.2,174.8 70.8,171.2 70.0,170.2" fill="none" stroke="#ff2a2a" stroke-width="0.75" stroke-linecap="round" stroke-linejoin="round" />
<path d="M80.9,151.7C83.0,151.2 90.4,147.6 93.2,148.6C96.0,149.6 98.0,155.3 97.8,157.9C97.5,160.5 93.8,163.6 91.7,164.1C89.7,164.6 85.2,160.2 85.5,161.0C85.8,161.8 90.6,167.7 93.2,168.7C95.8,169.7 99.6,167.4 100.9,167.2" fill="none" stroke="#b01414" stroke-width="1.3" stroke-linecap="round" stroke-linejoin="round" />
<path d="M80.9,151.7C83.0,151.2 90.4,147.6 93.2,148.6C96.0,149.6 98.0,155.3 97.8,157.9C97.5,160.5 93.8,163.6 91.7,164.1C89.7,164.6 85.2,160.2 85.5,161.0C85.8,161.8 90.6,167.7 93.2,168.7C95.8,169.7 99.6,167.4 100.9,167.2" fill="none" stroke="#ff2a2a" stroke-width="0.75" stroke-linecap="round" stroke-linejoin="round" />
<path d="M84.0,116.2C86.6,116.5 95.6,118.3 99.4,117.8C103.2,117.3 105.3,113.4 107.1,113.1C108.9,112.8 110.5,113.4 110.0,116.2C109.5,119.0 106.3,128.0 104.0,130.1C101.7,132.2 97.6,128.8 96.3,128.6" fill="none" stroke="#b01414" stroke-width="1.3" stroke-linecap="round" stroke-linejoin="round" />
<path d="M84.0,116.2C86.6,116.5 95.6,118.3 99.4,117.8C103.2,117.3 105.3,113.4 107.1,113.1C108.9,112.8 110.5,113.4 110.0,116.2C109.5,119.0 106.3,128.0 104.0,130.1C101.7,132.2 97.6,128.8 96.3,128.6" fill="none" stroke="#ff2a2a" stroke-width="0.75" stroke-linecap="round" stroke-linejoin="round" />
<path d="M96.3,140.9C97.8,140.4 103.3,137.3 105.6,137.8C107.9,138.3 110.5,142.2 110.0,144.0C109.5,145.8 103.8,147.8 102.5,148.6" fill="none" stroke="#b01414" stroke-width="1.3" stroke-linecap="round" stroke-linejoin="round" />
<path d="M96.3,140.9C97.8,140.4 103.3,137.3 105.6,137.8C107.9,138.3 110.5,142.2 110.0,144.0C109.5,145.8 103.8,147.8 102.5,148.6" fill="none" stroke="#ff2a2a" stroke-width="0.75" stroke-linecap="round" stroke-linejoin="round" />
<path d="M115.0,188.6C116.2,187.7 119.5,185.0 122.2,183.2C124.9,181.4 129.1,177.5 131.2,177.8C133.3,178.1 135.4,182.9 134.8,185.0C134.2,187.1 130.0,188.9 127.6,190.4C125.2,191.9 122.2,194.3 120.4,194.0C118.6,193.7 117.4,189.5 116.8,188.6" fill="none" stroke="#b01414" stroke-width="1.3" stroke-linecap="round" stroke-linejoin="round" />
<path d="M115.0,188.6C116.2,187.7 119.5,185.0 122.2,183.2C124.9,181.4 129.1,177.5 131.2,177.8C133.3,178.1 135.4,182.9 134.8,185.0C134.2,187.1 130.0,188.9 127.6,190.4C125.2,191.9 122.2,194.3 120.4,194.0C118.6,193.7 117.4,189.5 116.8,188.6" fill="none" stroke="#ff2a2a" stroke-width="0.75" stroke-linecap="round" stroke-linejoin="round" />
<path d="M142.0,199.4C143.2,198.5 147.0,195.8 149.1,194.0C151.2,192.2 152.7,188.6 154.5,188.6C156.3,188.6 160.2,192.2 159.9,194.0C159.6,195.8 155.1,198.2 152.7,199.4C150.3,200.6 146.7,200.9 145.5,201.2" fill="none" stroke="#b01414" stroke-width="1.3" stroke-linecap="round" stroke-linejoin="round" />
<path d="M142.0,199.4C143.2,198.5 147.0,195.8 149.1,194.0C151.2,192.2 152.7,188.6 154.5,188.6C156.3,188.6 160.2,192.2 159.9,194.0C159.6,195.8 155.1,198.2 152.7,199.4C150.3,200.6 146.7,200.9 145.5,201.2" fill="none" stroke="#ff2a2a" stroke-width="0.75" stroke-linecap="round" stroke-linejoin="round" />
<path d="M152.7,125.8C149.7,126.7 139.3,129.4 134.8,131.2C130.3,133.0 129.1,135.3 125.8,136.5C122.5,137.7 118.6,137.7 115.0,138.3C111.4,138.9 106.9,138.3 104.2,140.1C101.5,141.9 99.5,146.1 98.9,149.1C98.3,152.1 99.2,156.0 100.7,158.1C102.2,160.2 106.6,161.1 107.8,161.7" fill="none" stroke="#b01414" stroke-width="1.3" stroke-linecap="round" stroke-linejoin="round" />
<path d="M152.7,125.8C149.7,126.7 139.3,129.4 134.8,131.2C130.3,133.0 129.1,135.3 125.8,136.5C122.5,137.7 118.6,137.7 115.0,138.3C111.4,138.9 106.9,138.3 104.2,140.1C101.5,141.9 99.5,146.1 98.9,149.1C98.3,152.1 99.2,156.0 100.7,158.1C102.2,160.2 106.6,161.1 107.8,161.7" fill="none" stroke="#ff2a2a" stroke-width="0.75" stroke-linecap="round" stroke-linejoin="round" />
<path d="M54.6,129.3C55.9,130.7 61.6,135.4 62.1,137.9C62.6,140.4 57.2,142.2 57.9,144.3C58.6,146.4 63.6,150.7 66.4,150.7C69.2,150.7 71.4,145.0 75.0,144.3C78.6,143.6 84.3,146.4 87.9,146.4C91.5,146.4 95.7,142.9 96.4,144.3C97.1,145.7 94.2,152.5 92.1,155.0C90.0,157.5 85.0,158.6 83.6,159.3" fill="none" stroke="#b01414" stroke-width="1.3" stroke-linecap="round" stroke-linejoin="round" />
<path d="M54.6,129.3C55.9,130.7 61.6,135.4 62.1,137.9C62.6,140.4 57.2,142.2 57.9,144.3C58.6,146.4 63.6,150.7 66.4,150.7C69.2,150.7 71.4,145.0 75.0,144.3C78.6,143.6 84.3,146.4 87.9,146.4C91.5,146.4 95.7,142.9 96.4,144.3C97.1,145.7 94.2,152.5 92.1,155.0C90.0,157.5 85.0,158.6 83.6,159.3" fill="none" stroke="#ff2a2a" stroke-width="0.75" stroke-linecap="round" stroke-linejoin="round" />
<path d="M57.9,161.4C60.0,160.3 67.5,155.0 70.7,155.0C73.9,155.0 76.7,158.2 77.1,161.4C77.5,164.6 75.0,172.2 72.9,174.3C70.8,176.5 66.8,175.4 64.3,174.3C61.8,173.2 59.0,169.0 57.9,167.9" fill="none" stroke="#b01414" stroke-width="1.3" stroke-linecap="round" stroke-linejoin="round" />
<path d="M57.9,161.4C60.0,160.3 67.5,155.0 70.7,155.0C73.9,155.0 76.7,158.2 77.1,161.4C77.5,164.6 75.0,172.2 72.9,174.3C70.8,176.5 66.8,175.4 64.3,174.3C61.8,173.2 59.0,169.0 57.9,167.9" fill="none" stroke="#ff2a2a" stroke-width="0.75" stroke-linecap="round" stroke-linejoin="round" />
<path d="M85.7,163.6C87.8,163.9 94.7,164.6 98.6,165.7C102.5,166.8 106.4,168.2 109.3,170.0C112.2,171.8 116.4,174.6 115.7,176.4C115.0,178.2 108.6,181.0 105.0,180.7C101.4,180.3 96.1,175.4 94.3,174.3" fill="none" stroke="#b01414" stroke-width="1.3" stroke-linecap="round" stroke-linejoin="round" />
<path d="M85.7,163.6C87.8,163.9 94.7,164.6 98.6,165.7C102.5,166.8 106.4,168.2 109.3,170.0C112.2,171.8 116.4,174.6 115.7,176.4C115.0,178.2 108.6,181.0 105.0,180.7C101.4,180.3 96.1,175.4 94.3,174.3" fill="none" stroke="#ff2a2a" stroke-width="0.75" stroke-linecap="round" stroke-linejoin="round" />
<path d="M66.4,118.6C67.8,117.9 72.8,113.6 75.0,114.3C77.2,115.0 76.1,120.4 79.3,122.9C82.5,125.4 90.4,129.3 94.3,129.3C98.2,129.3 100.4,122.9 102.9,122.9C105.4,122.9 109.0,126.5 109.3,129.3C109.6,132.2 107.2,138.6 105.0,140.0C102.8,141.4 97.8,138.2 96.4,137.9" fill="none" stroke="#b01414" stroke-width="1.3" stroke-linecap="round" stroke-linejoin="round" />
<path d="M66.4,118.6C67.8,117.9 72.8,113.6 75.0,114.3C77.2,115.0 76.1,120.4 79.3,122.9C82.5,125.4 90.4,129.3 94.3,129.3C98.2,129.3 100.4,122.9 102.9,122.9C105.4,122.9 109.0,126.5 109.3,129.3C109.6,132.2 107.2,138.6 105.0,140.0C102.8,141.4 97.8,138.2 96.4,137.9" fill="none" stroke="#ff2a2a" stroke-width="0.75" stroke-linecap="round" stroke-linejoin="round" />
<path d="M70.7,144.3C72.8,143.6 80.0,140.4 83.6,140.0C87.2,139.6 89.2,142.8 92.1,142.1C94.9,141.4 97.8,135.3 100.7,135.7C103.6,136.1 109.3,141.4 109.3,144.3C109.3,147.2 101.1,150.4 100.7,152.9C100.3,155.4 107.4,157.9 107.1,159.3C106.8,160.7 100.0,161.1 98.6,161.4" fill="none" stroke="#b01414" stroke-width="1.3" stroke-linecap="round" stroke-linejoin="round" />
<path d="M70.7,144.3C72.8,143.6 80.0,140.4 83.6,140.0C87.2,139.6 89.2,142.8 92.1,142.1C94.9,141.4 97.8,135.3 100.7,135.7C103.6,136.1 109.3,141.4 109.3,144.3C109.3,147.2 101.1,150.4 100.7,152.9C100.3,155.4 107.4,157.9 107.1,159.3C106.8,160.7 100.0,161.1 98.6,161.4" fill="none" stroke="#ff2a2a" stroke-width="0.75" stroke-linecap="round" stroke-linejoin="round" />
<path d="M68.6,84.3C70.0,83.9 73.9,81.4 77.1,82.1C80.3,82.8 86.8,85.7 87.9,88.6C89.0,91.5 86.5,97.9 83.6,99.3C80.7,100.7 72.8,97.5 70.7,97.1" fill="none" stroke="#b01414" stroke-width="1.3" stroke-linecap="round" stroke-linejoin="round" />
<path d="M68.6,84.3C70.0,83.9 73.9,81.4 77.1,82.1C80.3,82.8 86.8,85.7 87.9,88.6C89.0,91.5 86.5,97.9 83.6,99.3C80.7,100.7 72.8,97.5 70.7,97.1" fill="none" stroke="#ff2a2a" stroke-width="0.75" stroke-linecap="round" stroke-linejoin="round" />
<path d="M112.0,118.0C113.3,117.0 117.0,113.3 120.0,112.0C123.0,110.7 127.3,109.3 130.0,110.0C132.7,110.7 136.3,114.0 136.0,116.0C135.7,118.0 131.0,120.3 128.0,122.0C125.0,123.7 120.7,124.0 118.0,126.0C115.3,128.0 111.3,132.3 112.0,134.0C112.7,135.7 118.3,136.7 122.0,136.0C125.7,135.3 132.0,131.0 134.0,130.0" fill="none" stroke="#b01414" stroke-width="1.3" stroke-linecap="round" stroke-linejoin="round" />
<path d="M112.0,118.0C113.3,117.0 117.0,113.3 120.0,112.0C123.0,110.7 127.3,109.3 130.0,110.0C132.7,110.7 136.3,114.0 136.0,116.0C135.7,118.0 131.0,120.3 128.0,122.0C125.0,123.7 120.7,124.0 118.0,126.0C115.3,128.0 111.3,132.3 112.0,134.0C112.7,135.7 118.3,136.7 122.0,136.0C125.7,135.3 132.0,131.0 134.0,130.0" fill="none" stroke="#ff2a2a" stroke-width="0.75" stroke-linecap="round" stroke-linejoin="round" />
<path d="M98.0,122.0C99.3,123.0 103.3,127.7 106.0,128.0C108.7,128.3 111.7,123.7 114.0,124.0C116.3,124.3 119.7,127.7 120.0,130.0C120.3,132.3 116.7,136.7 116.0,138.0" fill="none" stroke="#b01414" stroke-width="1.3" stroke-linecap="round" stroke-linejoin="round" />
<path d="M98.0,122.0C99.3,123.0 103.3,127.7 106.0,128.0C108.7,128.3 111.7,123.7 114.0,124.0C116.3,124.3 119.7,127.7 120.0,130.0C120.3,132.3 116.7,136.7 116.0,138.0" fill="none" stroke="#ff2a2a" stroke-width="0.75" stroke-linecap="round" stroke-linejoin="round" />
<path d="M110.0,58.0C111.7,58.3 117.0,60.2 120.0,60.0C123.0,59.8 125.3,56.7 128.0,57.0C130.7,57.3 135.7,59.8 136.0,62.0C136.3,64.2 131.0,68.7 130.0,70.0" fill="none" stroke="#b01414" stroke-width="1.3" stroke-linecap="round" stroke-linejoin="round" />
<path d="M110.0,58.0C111.7,58.3 117.0,60.2 120.0,60.0C123.0,59.8 125.3,56.7 128.0,57.0C130.7,57.3 135.7,59.8 136.0,62.0C136.3,64.2 131.0,68.7 130.0,70.0" fill="none" stroke="#ff2a2a" stroke-width="0.75" stroke-linecap="round" stroke-linejoin="round" />
<path d="M150.0,70.0C151.3,70.7 155.3,73.7 158.0,74.0C160.7,74.3 163.7,71.3 166.0,72.0C168.3,72.7 172.3,76.3 172.0,78.0C171.7,79.7 165.3,81.3 164.0,82.0" fill="none" stroke="#b01414" stroke-width="1.3" stroke-linecap="round" stroke-linejoin="round" />
<path d="M150.0,70.0C151.3,70.7 155.3,73.7 158.0,74.0C160.7,74.3 163.7,71.3 166.0,72.0C168.3,72.7 172.3,76.3 172.0,78.0C171.7,79.7 165.3,81.3 164.0,82.0" fill="none" stroke="#ff2a2a" stroke-width="0.75" stroke-linecap="round" stroke-linejoin="round" />
<path d="M140.0,92.0C141.7,92.7 147.0,95.7 150.0,96.0C153.0,96.3 155.7,93.3 158.0,94.0C160.3,94.7 164.3,98.0 164.0,100.0C163.7,102.0 159.0,104.7 156.0,106.0C153.0,107.3 148.7,106.7 146.0,108.0C143.3,109.3 141.0,113.0 140.0,114.0" fill="none" stroke="#b01414" stroke-width="1.3" stroke-linecap="round" stroke-linejoin="round" />
<path d="M140.0,92.0C141.7,92.7 147.0,95.7 150.0,96.0C153.0,96.3 155.7,93.3 158.0,94.0C160.3,94.7 164.3,98.0 164.0,100.0C163.7,102.0 159.0,104.7 156.0,106.0C153.0,107.3 148.7,106.7 146.0,108.0C143.3,109.3 141.0,113.0 140.0,114.0" fill="none" stroke="#ff2a2a" stroke-width="0.75" stroke-linecap="round" stroke-linejoin="round" />
<path d="M225.0,38.0C227.5,39.0 236.2,41.8 240.0,44.0C243.8,46.2 245.6,48.5 247.5,51.5C249.4,54.5 250.4,59.1 251.7,61.7C253.0,64.3 253.5,66.2 255.2,66.9C256.9,67.6 260.3,65.7 262.0,66.0C263.7,66.3 264.6,67.3 265.5,68.6C266.4,69.9 266.3,72.4 267.2,73.8C268.1,75.2 269.2,76.9 270.6,77.2C272.0,77.5 274.4,76.7 275.8,75.5C277.2,74.3 277.5,70.9 279.2,70.3C280.9,69.7 284.3,71.1 286.0,72.0C287.7,72.9 288.4,75.5 289.5,75.5C290.6,75.5 291.5,72.9 292.9,72.0C294.3,71.1 296.3,70.0 298.0,70.3C299.7,70.6 301.2,72.4 303.2,73.8C305.2,75.2 307.7,77.8 310.0,78.9C312.3,80.0 315.6,79.4 317.0,80.6C318.4,81.8 319.3,84.1 318.7,85.8C318.1,87.5 316.4,89.5 313.5,90.9C310.6,92.3 304.9,94.0 301.5,94.3C298.1,94.6 295.5,93.4 292.9,92.6C290.3,91.8 287.7,90.6 286.0,89.2C284.3,87.8 284.9,85.7 282.6,84.0C280.3,82.3 275.2,80.3 272.3,78.9C269.4,77.5 267.8,76.7 265.5,75.5C263.2,74.3 261.2,71.9 258.6,72.0C256.0,72.1 252.8,75.1 250.0,76.0C247.2,76.9 244.3,76.4 241.5,77.2C238.7,78.0 236.1,80.3 232.9,80.6C229.8,80.9 225.5,78.0 222.6,78.9C219.7,79.8 218.3,85.5 215.7,85.8C213.1,86.1 209.8,81.8 207.2,80.6C204.6,79.4 203.2,78.3 200.3,78.9C197.4,79.5 191.7,83.2 190.0,84.0" fill="none" stroke="#b01414" stroke-width="1.3" stroke-linecap="round" stroke-linejoin="round" />
<path d="M225.0,38.0C227.5,39.0 236.2,41.8 240.0,44.0C243.8,46.2 245.6,48.5 247.5,51.5C249.4,54.5 250.4,59.1 251.7,61.7C253.0,64.3 253.5,66.2 255.2,66.9C256.9,67.6 260.3,65.7 262.0,66.0C263.7,66.3 264.6,67.3 265.5,68.6C266.4,69.9 266.3,72.4 267.2,73.8C268.1,75.2 269.2,76.9 270.6,77.2C272.0,77.5 274.4,76.7 275.8,75.5C277.2,74.3 277.5,70.9 279.2,70.3C280.9,69.7 284.3,71.1 286.0,72.0C287.7,72.9 288.4,75.5 289.5,75.5C290.6,75.5 291.5,72.9 292.9,72.0C294.3,71.1 296.3,70.0 298.0,70.3C299.7,70.6 301.2,72.4 303.2,73.8C305.2,75.2 307.7,77.8 310.0,78.9C312.3,80.0 315.6,79.4 317.0,80.6C318.4,81.8 319.3,84.1 318.7,85.8C318.1,87.5 316.4,89.5 313.5,90.9C310.6,92.3 304.9,94.0 301.5,94.3C298.1,94.6 295.5,93.4 292.9,92.6C290.3,91.8 287.7,90.6 286.0,89.2C284.3,87.8 284.9,85.7 282.6,84.0C280.3,82.3 275.2,80.3 272.3,78.9C269.4,77.5 267.8,76.7 265.5,75.5C263.2,74.3 261.2,71.9 258.6,72.0C256.0,72.1 252.8,75.1 250.0,76.0C247.2,76.9 244.3,76.4 241.5,77.2C238.7,78.0 236.1,80.3 232.9,80.6C229.8,80.9 225.5,78.0 222.6,78.9C219.7,79.8 218.3,85.5 215.7,85.8C213.1,86.1 209.8,81.8 207.2,80.6C204.6,79.4 203.2,78.3 200.3,78.9C197.4,79.5 191.7,83.2 190.0,84.0" fill="none" stroke="#ff2a2a" stroke-width="0.75" stroke-linecap="round" stroke-linejoin="round" />
<path d="M217.4,34.3C216.6,37.2 213.6,47.8 212.3,51.5C211.0,55.2 210.3,54.3 209.7,56.6C209.1,58.9 208.8,62.6 208.9,65.2C209.1,67.8 209.5,70.0 210.6,72.0C211.7,74.0 214.0,76.0 215.7,77.2C217.4,78.4 219.5,78.3 220.9,78.9C222.3,79.5 224.9,79.4 224.3,80.6C223.7,81.8 218.8,83.8 217.4,85.8C216.0,87.8 215.2,90.9 215.7,92.6C216.2,94.3 218.2,94.9 220.4,96.0C222.7,97.1 226.8,98.0 229.2,99.0C231.6,100.0 233.2,100.7 235.0,101.9C236.8,103.1 239.2,105.3 240.0,106.0" fill="none" stroke="#b01414" stroke-width="1.3" stroke-linecap="round" stroke-linejoin="round" />
<path d="M217.4,34.3C216.6,37.2 213.6,47.8 212.3,51.5C211.0,55.2 210.3,54.3 209.7,56.6C209.1,58.9 208.8,62.6 208.9,65.2C209.1,67.8 209.5,70.0 210.6,72.0C211.7,74.0 214.0,76.0 215.7,77.2C217.4,78.4 219.5,78.3 220.9,78.9C222.3,79.5 224.9,79.4 224.3,80.6C223.7,81.8 218.8,83.8 217.4,85.8C216.0,87.8 215.2,90.9 215.7,92.6C216.2,94.3 218.2,94.9 220.4,96.0C222.7,97.1 226.8,98.0 229.2,99.0C231.6,100.0 233.2,100.7 235.0,101.9C236.8,103.1 239.2,105.3 240.0,106.0" fill="none" stroke="#ff2a2a" stroke-width="0.75" stroke-linecap="round" stroke-linejoin="round" />
<path d="M200.0,70.0C199.3,70.8 197.7,73.8 196.0,75.0C194.3,76.2 192.0,77.0 190.0,77.0C188.0,77.0 185.0,75.3 184.0,75.0" fill="none" stroke="#b01414" stroke-width="1.3" stroke-linecap="round" stroke-linejoin="round" />
<path d="M200.0,70.0C199.3,70.8 197.7,73.8 196.0,75.0C194.3,76.2 192.0,77.0 190.0,77.0C188.0,77.0 185.0,75.3 184.0,75.0" fill="none" stroke="#ff2a2a" stroke-width="0.75" stroke-linecap="round" stroke-linejoin="round" />
<path d="M366.0,222.0C367.2,222.3 371.5,222.8 373.0,224.0C374.5,225.2 375.3,227.3 375.0,229.0C374.7,230.7 372.7,232.5 371.0,234.0C369.3,235.5 366.0,237.3 365.0,238.0" fill="none" stroke="#b01414" stroke-width="1.3" stroke-linecap="round" stroke-linejoin="round" />
<path d="M366.0,222.0C367.2,222.3 371.5,222.8 373.0,224.0C374.5,225.2 375.3,227.3 375.0,229.0C374.7,230.7 372.7,232.5 371.0,234.0C369.3,235.5 366.0,237.3 365.0,238.0" fill="none" stroke="#ff2a2a" stroke-width="0.75" stroke-linecap="round" stroke-linejoin="round" />
<path d="M119.0,54.0C121.3,53.5 127.7,51.7 133.0,51.0C138.3,50.3 145.5,49.8 151.0,50.0C156.5,50.2 161.0,50.9 166.0,52.3C171.0,53.7 178.0,56.7 181.0,58.5C184.0,60.3 183.5,62.2 184.0,63.0" fill="none" stroke="#8a0606" stroke-width="6.6" stroke-linecap="butt"/>
<path d="M119.0,54.0C121.3,53.5 127.7,51.7 133.0,51.0C138.3,50.3 145.5,49.8 151.0,50.0C156.5,50.2 161.0,50.9 166.0,52.3C171.0,53.7 178.0,56.7 181.0,58.5C184.0,60.3 183.5,62.2 184.0,63.0" fill="none" stroke="#e81212" stroke-width="5.6" stroke-linecap="butt"/>
<path d="M129.0,59.0C131.8,59.5 140.7,60.8 146.0,62.0C151.3,63.2 156.3,65.2 161.0,66.5C165.7,67.8 171.8,69.4 174.0,70.0" fill="none" stroke="#8a0606" stroke-width="6.4" stroke-linecap="butt"/>
<path d="M129.0,59.0C131.8,59.5 140.7,60.8 146.0,62.0C151.3,63.2 156.3,65.2 161.0,66.5C165.7,67.8 171.8,69.4 174.0,70.0" fill="none" stroke="#b00808" stroke-width="5.4" stroke-linecap="butt"/>
<path d="M95.3,73.0C97.2,72.7 102.1,71.7 106.6,70.9C111.0,70.1 116.8,69.0 122.0,68.3C127.2,67.6 133.0,66.7 138.0,66.5C143.0,66.3 149.7,66.9 152.0,67.0" fill="none" stroke="#8a0606" stroke-width="6.4" stroke-linecap="butt"/>
<path d="M95.3,73.0C97.2,72.7 102.1,71.7 106.6,70.9C111.0,70.1 116.8,69.0 122.0,68.3C127.2,67.6 133.0,66.7 138.0,66.5C143.0,66.3 149.7,66.9 152.0,67.0" fill="none" stroke="#e81212" stroke-width="5.4" stroke-linecap="butt"/>
<path d="M97.0,77.0C99.5,77.5 106.3,79.1 111.8,80.0C117.3,80.9 124.5,82.2 130.0,82.5C135.5,82.8 140.2,82.2 145.0,82.0C149.8,81.8 153.5,80.3 159.0,81.0C164.5,81.7 174.8,85.2 178.0,86.0" fill="none" stroke="#8a0606" stroke-width="6.4" stroke-linecap="butt"/>
<path d="M97.0,77.0C99.5,77.5 106.3,79.1 111.8,80.0C117.3,80.9 124.5,82.2 130.0,82.5C135.5,82.8 140.2,82.2 145.0,82.0C149.8,81.8 153.5,80.3 159.0,81.0C164.5,81.7 174.8,85.2 178.0,86.0" fill="none" stroke="#cc0c0c" stroke-width="5.4" stroke-linecap="butt"/>
<path d="M159.0,81.0C162.2,82.2 174.8,86.8 178.0,88.0" fill="none" stroke="#8a0606" stroke-width="4.6" stroke-linecap="butt"/>
<path d="M159.0,81.0C162.2,82.2 174.8,86.8 178.0,88.0" fill="none" stroke="#b00808" stroke-width="3.6" stroke-linecap="butt"/>
<path d="M83.8,113.0C85.2,109.1 88.6,95.9 92.5,89.6C96.4,83.3 104.7,77.4 107.1,75.0" fill="none" stroke="#8a0606" stroke-width="6.6" stroke-linecap="butt"/>
<path d="M83.8,113.0C85.2,109.1 88.6,95.9 92.5,89.6C96.4,83.3 104.7,77.4 107.1,75.0" fill="none" stroke="#e81212" stroke-width="5.6" stroke-linecap="butt"/>
<path d="M92.0,114.0C94.1,110.5 100.1,98.4 104.6,93.0C109.1,87.6 116.6,83.4 119.0,81.5" fill="none" stroke="#8a0606" stroke-width="6.0" stroke-linecap="butt"/>
<path d="M92.0,114.0C94.1,110.5 100.1,98.4 104.6,93.0C109.1,87.6 116.6,83.4 119.0,81.5" fill="none" stroke="#e81212" stroke-width="5.0" stroke-linecap="butt"/>
<path d="M101.3,114.4C103.2,111.7 108.5,102.8 112.9,98.3C117.3,93.8 125.1,89.3 127.5,87.5" fill="none" stroke="#8a0606" stroke-width="5.8" stroke-linecap="butt"/>
<path d="M101.3,114.4C103.2,111.7 108.5,102.8 112.9,98.3C117.3,93.8 125.1,89.3 127.5,87.5" fill="none" stroke="#e81212" stroke-width="4.8" stroke-linecap="butt"/>
<path d="M111.5,113.0C113.2,111.0 118.1,104.5 121.7,101.3C125.3,98.1 131.4,95.2 133.3,94.0" fill="none" stroke="#8a0606" stroke-width="5.2" stroke-linecap="butt"/>
<path d="M111.5,113.0C113.2,111.0 118.1,104.5 121.7,101.3C125.3,98.1 131.4,95.2 133.3,94.0" fill="none" stroke="#cc0c0c" stroke-width="4.2" stroke-linecap="butt"/>
<polygon points="167.5,101 190.5,125.5 189,127.5 161.8,107.5" fill="#9a0606"/>
<path d="M158.6,111.6C162.4,114.2 177.6,124.6 181.4,127.2" fill="none" stroke="#8a0606" stroke-width="5.2" stroke-linecap="butt"/>
<path d="M158.6,111.6C162.4,114.2 177.6,124.6 181.4,127.2" fill="none" stroke="#b00808" stroke-width="4.2" stroke-linecap="butt"/>
<ellipse cx="162" cy="125.5" rx="6" ry="5" fill="#ee1010"/>
<path d="M126.0,140.5C130.4,138.5 148.1,130.5 152.5,128.5" fill="none" stroke="#8a0606" stroke-width="8.0" stroke-linecap="butt"/>
<path d="M126.0,140.5C130.4,138.5 148.1,130.5 152.5,128.5" fill="none" stroke="#b00808" stroke-width="7" stroke-linecap="butt"/>
<path d="M137.0,156.5C137.5,154.2 138.2,145.5 139.8,142.8C141.4,140.1 144.1,139.4 146.6,140.1C149.1,140.8 153.3,144.0 154.9,147.0C156.5,150.0 156.7,155.2 156.2,157.9C155.7,160.6 152.8,162.5 152.1,163.4" fill="none" stroke="#8a0606" stroke-width="7.0" stroke-linecap="butt"/>
<path d="M137.0,156.5C137.5,154.2 138.2,145.5 139.8,142.8C141.4,140.1 144.1,139.4 146.6,140.1C149.1,140.8 153.3,144.0 154.9,147.0C156.5,150.0 156.7,155.2 156.2,157.9C155.7,160.6 152.8,162.5 152.1,163.4" fill="none" stroke="#a00808" stroke-width="6" stroke-linecap="butt"/>
<path d="M105.5,148.3C106.6,149.0 111.2,151.7 112.3,152.4" fill="none" stroke="#8a0606" stroke-width="6.0" stroke-linecap="butt"/>
<path d="M105.5,148.3C106.6,149.0 111.2,151.7 112.3,152.4" fill="none" stroke="#b00808" stroke-width="5" stroke-linecap="butt"/>
<path d="M135.7,170.3C140.3,169.4 158.5,165.7 163.1,164.8" fill="none" stroke="#8a0606" stroke-width="5.0" stroke-linecap="butt"/>
<path d="M135.7,170.3C140.3,169.4 158.5,165.7 163.1,164.8" fill="none" stroke="#b00808" stroke-width="4" stroke-linecap="butt"/>
<path d="M144.0,182.0C145.2,182.7 149.1,185.0 151.4,186.0C153.7,187.0 156.9,187.7 158.0,188.0" fill="none" stroke="#8a0606" stroke-width="8.0" stroke-linecap="butt"/>
<path d="M144.0,182.0C145.2,182.7 149.1,185.0 151.4,186.0C153.7,187.0 156.9,187.7 158.0,188.0" fill="none" stroke="#e81212" stroke-width="7" stroke-linecap="butt"/>
<path d="M158.0,186.0C159.0,186.2 163.0,186.8 164.0,187.0" fill="none" stroke="#8a0606" stroke-width="5.0" stroke-linecap="butt"/>
<path d="M158.0,186.0C159.0,186.2 163.0,186.8 164.0,187.0" fill="none" stroke="#e81212" stroke-width="4" stroke-linecap="butt"/>
<path d="M127.0,181.5C128.2,181.5 132.8,181.5 134.0,181.5" fill="none" stroke="#8a0606" stroke-width="5.0" stroke-linecap="butt"/>
<path d="M127.0,181.5C128.2,181.5 132.8,181.5 134.0,181.5" fill="none" stroke="#b00808" stroke-width="4" stroke-linecap="butt"/>
<ellipse cx="167.7" cy="161.5" rx="5.2" ry="7.6" fill="none" stroke="#b80a0a" stroke-width="3.5"/>
<ellipse cx="180" cy="162.5" rx="5.6" ry="6.6" fill="none" stroke="#a80a0a" stroke-width="3.2"/>
<polygon points="235.2,108.5 240.7,103.0 246.5,109.5 241.7,119.7 253.6,114.2 259.4,120.7 254.6,130.9 266.5,125.4 272.3,131.9 267.5,142.1 279.3,136.5 285.1,143.0 280.3,153.2 292.2,147.7 298.0,154.2 293.2,164.4 305.1,158.9 310.9,165.4 306.1,175.6 318.0,170.1 323.8,176.6 319.0,186.8 330.9,181.3 336.7,187.8 331.9,198.0 343.7,192.4 349.5,198.9 344.7,209.1 356.6,203.6 362.4,210.1 357.6,220.3 369.5,214.8 375.3,221.3 373.5,229.8 371.0,232.8 364.3,231.3 361.6,225.1 357.2,225.6 351.4,220.1 348.7,213.9 344.3,214.4 338.5,208.9 335.9,202.8 331.5,203.3 325.7,197.8 323.0,191.6 318.6,192.1 312.8,186.6 310.1,180.4 305.7,180.9 299.9,175.4 297.2,169.2 292.8,169.7 287.0,164.2 284.3,158.0 279.9,158.5 274.1,153.0 271.5,146.9 267.1,147.4 261.3,141.9 258.6,135.7 254.2,136.2 248.4,130.7 245.7,124.5 241.3,125.0 235.5,119.5" fill="#ea2a2a" stroke="#ea2a2a" stroke-width="2" stroke-linejoin="round"/>
<path d="M236.9,110.0 L237.3,119.0" stroke="#b81a1a" stroke-width="2" fill="none" opacity="0.8"/>
<path d="M242.2,107.0 L240.2,116.0" stroke="#f66a6a" stroke-width="2.2" fill="none" opacity="0.7"/>
<path d="M249.8,121.2 L250.2,130.2" stroke="#b81a1a" stroke-width="2" fill="none" opacity="0.8"/>
<path d="M255.1,118.2 L253.1,127.2" stroke="#f66a6a" stroke-width="2.2" fill="none" opacity="0.7"/>
<path d="M262.7,132.4 L263.1,141.4" stroke="#b81a1a" stroke-width="2" fill="none" opacity="0.8"/>
<path d="M268.0,129.4 L266.0,138.4" stroke="#f66a6a" stroke-width="2.2" fill="none" opacity="0.7"/>
<path d="M275.5,143.5 L275.9,152.5" stroke="#b81a1a" stroke-width="2" fill="none" opacity="0.8"/>
<path d="M280.8,140.5 L278.8,149.5" stroke="#f66a6a" stroke-width="2.2" fill="none" opacity="0.7"/>
<path d="M288.4,154.7 L288.8,163.7" stroke="#b81a1a" stroke-width="2" fill="none" opacity="0.8"/>
<path d="M293.7,151.7 L291.7,160.7" stroke="#f66a6a" stroke-width="2.2" fill="none" opacity="0.7"/>
<path d="M301.3,165.9 L301.7,174.9" stroke="#b81a1a" stroke-width="2" fill="none" opacity="0.8"/>
<path d="M306.6,162.9 L304.6,171.9" stroke="#f66a6a" stroke-width="2.2" fill="none" opacity="0.7"/>
<path d="M314.2,177.1 L314.6,186.1" stroke="#b81a1a" stroke-width="2" fill="none" opacity="0.8"/>
<path d="M319.5,174.1 L317.5,183.1" stroke="#f66a6a" stroke-width="2.2" fill="none" opacity="0.7"/>
<path d="M327.1,188.3 L327.5,197.3" stroke="#b81a1a" stroke-width="2" fill="none" opacity="0.8"/>
<path d="M332.4,185.3 L330.4,194.3" stroke="#f66a6a" stroke-width="2.2" fill="none" opacity="0.7"/>
<path d="M339.9,199.4 L340.3,208.4" stroke="#b81a1a" stroke-width="2" fill="none" opacity="0.8"/>
<path d="M345.2,196.4 L343.2,205.4" stroke="#f66a6a" stroke-width="2.2" fill="none" opacity="0.7"/>
<path d="M352.8,210.6 L353.2,219.6" stroke="#b81a1a" stroke-width="2" fill="none" opacity="0.8"/>
<path d="M358.1,207.6 L356.1,216.6" stroke="#f66a6a" stroke-width="2.2" fill="none" opacity="0.7"/>
<path d="M365.7,221.8 L366.1,230.8" stroke="#b81a1a" stroke-width="2" fill="none" opacity="0.8"/>
<path d="M371.0,218.8 L369.0,227.8" stroke="#f66a6a" stroke-width="2.2" fill="none" opacity="0.7"/>
<path d="M280.5,159 L285,162 L290,165 L292,159 L297,163 L299,171 L298,181 L289,180.5 L283,175 L282,168 L280.5,165 Z" fill="#3a3ae6"/>
<path d="M289,164 L297,180" stroke="#c02a6a" stroke-width="1" fill="none"/>
<circle cx="120.6" cy="139.5" r="3.5" fill="#9a10a0"/><circle cx="124" cy="148.3" r="7.8" fill="#c418d4"/><circle cx="122" cy="145.5" r="3.5" fill="#e070f0" opacity="0.7"/>
<path d="M137,87 L141,78 L147,73 L153,75 L158,77 L161,82 L159,87 L154,84 L149,86 L145,91 L139,91 Z" fill="#22d4dc"/>
<path d="M143,80 L150,76" stroke="#8af0f0" stroke-width="2" fill="none"/>
<path d="M220,11 L223.5,29" stroke="#e89a3c" stroke-width="11" stroke-linecap="round" fill="none"/>
<path d="M221,10 L224,27" stroke="#f6c070" stroke-width="2.2" stroke-linecap="round" fill="none" opacity="0.8"/>
<path d="M215,33 Q220,28 228,32 Q232,36 226,38 Q218,40 215,36 Z" fill="none" stroke="#a04020" stroke-width="1.3"/>
<text x="206.30" y="54.50" font-size="17" font-weight="normal" text-anchor="start" fill="#000" >K54E</text>
<text x="121.80" y="106.70" font-size="17" font-weight="normal" text-anchor="start" fill="#000" >S154P</text>
<text x="99.00" y="174.50" font-size="17" font-weight="normal" text-anchor="start" fill="#000" >G430R</text>
<text x="268.50" y="199.50" font-size="17" font-weight="normal" text-anchor="start" fill="#000" >L24M</text>
</svg></body></html>
